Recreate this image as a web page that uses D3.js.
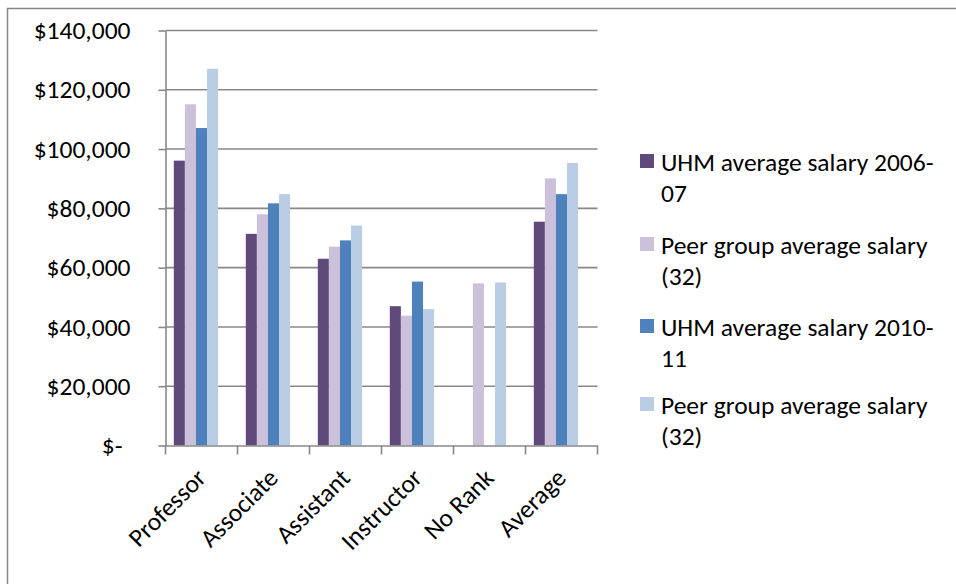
<!DOCTYPE html>
<html>
<head>
<meta charset="utf-8">
<script src="https://cdn.jsdelivr.net/npm/d3@7"></script>
<style>
  html, body { margin: 0; padding: 0; background: #fff; }
  svg { display: block; }
  text { font-family: Carlito, Calibri, "Open Sans", sans-serif; fill: #000; }
</style>
</head>
<body>
<svg id="chart" width="956" height="584"></svg>
<script>
// Faculty salary comparison by rank
const categories = ["Professor", "Associate", "Assistant", "Instructor", "No Rank", "Average"];
const seriesNames = [
  "UHM average salary 2006-07",
  "Peer group average salary (32)",
  "UHM average salary 2010-11",
  "Peer group average salary (32)"
];
const legendLines = [
  ["UHM average salary 2006-", "07"],
  ["Peer group average salary", "(32)"],
  ["UHM average salary 2010-", "11"],
  ["Peer group average salary", "(32)"]
];
const uhm2006 = [96100, 71400, 63000, 47000, null, 75500];
const peer2006 = [115100, 78000, 67100, 43800, 54700, 90100];
const uhm2010 = [107100, 81700, 69200, 55300, null, 84800];
const peer2010 = [127100, 84800, 74200, 46000, 55000, 95300];
const seriesValues = [uhm2006, peer2006, uhm2010, peer2010];
const colors = ["#604A7B", "#CCC1DA", "#4F81BD", "#B9CDE5"];
const yTicks = [0, 20000, 40000, 60000, 80000, 100000, 120000, 140000];

const FONT = 'Carlito, Calibri, "Open Sans", sans-serif';
const FS = 25.5;

const svg = d3.select("#chart");

// outer chart frame (only top and left edges fall inside the view)
svg.append("rect")
  .attr("x", 7.5).attr("y", 8.5)
  .attr("width", 1000).attr("height", 1000)
  .attr("fill", "none").attr("stroke", "#878787").attr("stroke-width", 1.5);

const plot = { left: 165.5, right: 597.5, top: 30.5, bottom: 445.5 };

const x0 = d3.scaleBand().domain(categories).range([plot.left, plot.right]).paddingInner(0).paddingOuter(0);
const y = d3.scaleLinear().domain([0, 140000]).range([plot.bottom, plot.top]);

// bar width: slots for five bars plus a 150% gap per category
const barW = x0.step() / 6.5;
const x1 = d3.scaleBand().domain(d3.range(seriesNames.length))
  .range([0.75 * barW, 0.75 * barW + barW * seriesNames.length]);

// gridlines
svg.append("g")
  .selectAll("line")
  .data(yTicks.filter(d => d > 0))
  .join("line")
  .attr("x1", plot.left).attr("x2", plot.right)
  .attr("y1", d => y(d)).attr("y2", d => y(d))
  .attr("stroke", "#888").attr("stroke-width", 1.6);

// bars
const bars = svg.append("g");
seriesValues.forEach((vals, si) => {
  bars.append("g")
    .attr("fill", colors[si])
    .selectAll("rect")
    .data(categories.map((c, i) => ({ c, v: vals[i] })).filter(d => d.v != null))
    .join("rect")
    .attr("x", d => x0(d.c) + x1(si))
    .attr("width", x1.bandwidth())
    .attr("y", d => y(d.v))
    .attr("height", d => y(0) - y(d.v));
});

// y axis
const fmt = d => d === 0 ? "$-" : "$" + d3.format(",")(d);
const yAxis = svg.append("g")
  .attr("transform", `translate(${plot.left},0)`)
  .call(d3.axisLeft(y).tickValues(yTicks).tickFormat(fmt).tickSize(7).tickSizeOuter(0));
yAxis.attr("font-family", FONT).attr("font-size", FS);
yAxis.select(".domain").attr("stroke", "#888").attr("stroke-width", 1.6);
yAxis.selectAll(".tick line").attr("stroke", "#888").attr("stroke-width", 1.6);
yAxis.selectAll(".tick text")
  .attr("x", -35)
  .attr("fill", "#000");
yAxis.selectAll(".tick").filter(d => d === 0).select("text").attr("x", -43);

// x axis
const xAxis = svg.append("g")
  .attr("transform", `translate(0,${plot.bottom})`)
  .call(d3.axisBottom(x0).tickSize(0).tickSizeOuter(0));
xAxis.select(".domain").attr("stroke", "#888").attr("stroke-width", 1.6);
xAxis.selectAll(".tick text").remove();

// category boundary ticks
xAxis.append("g")
  .selectAll("line")
  .data(categories.concat(["_end"]))
  .join("line")
  .attr("x1", (d, i) => plot.left + i * x0.step())
  .attr("x2", (d, i) => plot.left + i * x0.step())
  .attr("y1", 0).attr("y2", 9)
  .attr("stroke", "#888").attr("stroke-width", 1.6);

// rotated category labels
xAxis.append("g")
  .attr("font-family", FONT)
  .selectAll("text")
  .data(categories)
  .join("text")
  .attr("text-anchor", "end")
  .attr("font-size", FS)
  .attr("transform", d => `translate(${x0(d) + x0.bandwidth() / 2 + 6},${34}) rotate(-45)`)
  .text(d => d);

// legend
const legend = svg.append("g").attr("transform", "translate(640,0)").attr("font-family", FONT);
const legendY = [162, 245, 327, 405];
legendLines.forEach((lines, i) => {
  const g = legend.append("g").attr("transform", `translate(0,${legendY[i]})`);
  g.append("rect").attr("x", 0).attr("y", -8).attr("width", 14).attr("height", 14).attr("fill", colors[i]);
  g.selectAll("text")
    .data(lines)
    .join("text")
    .attr("x", 21)
    .attr("y", (d, j) => j * 31)
    .attr("dy", "0.35em")
    .attr("font-size", FS)
    .text(d => d);
});
</script>
</body>
</html>
